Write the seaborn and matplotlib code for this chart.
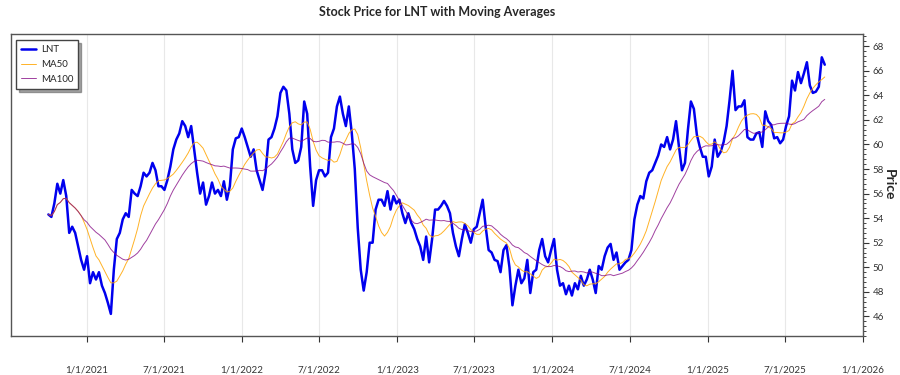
import matplotlib
matplotlib.use("Agg")
import matplotlib.pyplot as plt
import matplotlib.dates as mdates
from matplotlib.ticker import AutoMinorLocator, FuncFormatter, MultipleLocator
import pandas as pd
import seaborn as sns

# weekly closes, first week = 2020-10-02
first_week = "2020-10-02"

close_y1 = [54.3, 54.1, 55.2, 56.8, 56.0, 57.1, 55.8, 52.8, 53.3, 52.8,
            51.7, 50.6, 49.8, 50.9, 48.7, 49.6, 49.0, 49.6, 48.5, 47.9,
            47.1, 46.2, 49.8, 52.3, 52.8, 53.9, 54.4, 54.1, 56.3, 56.0,
            55.8, 56.6, 57.7, 57.4, 57.7, 58.5, 57.9, 56.6, 56.6, 56.3,
            57.1, 58.2, 59.6, 60.4, 60.9, 61.9, 61.5, 60.6, 61.5, 59.6,
            57.7, 56.0, 56.9]
close_y2 = [55.1, 55.8, 56.9, 56.0, 56.3, 55.8, 57.0, 55.5, 56.6, 59.6,
            60.5, 60.6, 61.3, 60.6, 59.8, 59.0, 59.6, 57.9, 57.1, 56.3,
            57.7, 60.4, 60.6, 61.3, 62.3, 64.2, 64.7, 64.4, 62.5, 59.6,
            58.5, 58.7, 59.8, 63.5, 62.5, 58.2, 55.0, 57.1, 57.9, 57.9,
            57.4, 57.7, 60.6, 61.3, 63.1, 63.9, 62.5, 61.5, 63.1, 60.9,
            58.0, 53.2]
close_y3 = [49.8, 48.1, 49.6, 52.0, 52.0, 54.7, 55.5, 55.5, 55.0, 56.2,
            54.7, 55.8, 55.2, 55.5, 54.4, 53.6, 54.4, 53.6, 53.1, 52.3,
            51.7, 50.6, 52.5, 50.4, 52.3, 54.7, 54.7, 55.0, 55.4, 55.0,
            54.4, 52.8, 51.7, 50.9, 52.3, 53.5, 52.8, 52.0, 53.1, 53.3,
            54.4, 55.5, 53.3, 51.4, 51.2, 50.6, 50.5, 49.6, 51.4, 51.8,
            50.0, 46.9]
close_y4 = [48.5, 49.8, 48.7, 49.1, 50.6, 47.9, 49.6, 49.8, 51.4, 52.3,
            50.9, 50.4, 51.4, 52.3, 49.8, 48.5, 48.7, 47.8, 48.5, 47.7,
            48.7, 48.2, 49.3, 48.5, 49.0, 49.8, 49.0, 47.9, 50.1, 49.8,
            50.9, 51.6, 51.9, 50.6, 51.2, 49.8, 50.1, 50.4, 50.6, 51.4,
            53.9, 55.1, 55.8, 55.6, 57.0, 57.7, 57.9, 58.5, 59.1, 60.0,
            59.8, 60.6]
close_y5 = [59.6, 60.4, 61.9, 59.8, 57.9, 58.5, 61.2, 63.5, 62.9, 60.8,
            59.8, 59.0, 59.0, 57.4, 58.2, 60.4, 59.0, 59.4, 60.2, 61.5,
            63.6, 66.0, 62.8, 63.1, 63.1, 63.6, 60.6, 60.4, 60.4, 60.9,
            61.0, 59.8, 62.7, 61.9, 61.6, 60.5, 60.6, 60.1, 60.4, 61.5,
            62.3, 65.2, 64.4, 65.9, 65.0, 65.8, 66.7, 64.8, 64.2, 64.3,
            64.7, 67.1, 66.5]

# 50 and 100 trading days ~ 10 and 20 weeks
ma50_weeks = 10
ma100_weeks = 20

close = close_y1 + close_y2 + close_y3 + close_y4 + close_y5
df = pd.DataFrame({
    "Date": pd.date_range(first_week, periods=len(close), freq="7D"),
    "LNT": close,
})
df["MA50"] = df["LNT"].rolling(ma50_weeks, min_periods=1).mean()
df["MA100"] = df["LNT"].rolling(ma100_weeks, min_periods=1).mean()

sns.set_style("white")
plt.rcParams["font.family"] = ["Lato", "DejaVu Sans"]

fig = plt.figure(figsize=(9, 3.75), dpi=100)
ax = fig.add_axes([11 / 900, 1 - 336 / 375, 852 / 900, 302 / 375])

sns.lineplot(data=df, x="Date", y="LNT", ax=ax, color="#0000ee", lw=1.8, label="LNT")
sns.lineplot(data=df, x="Date", y="MA50", ax=ax, color="orange", lw=0.7, alpha=0.85, label="MA50")
sns.lineplot(data=df, x="Date", y="MA100", ax=ax, color="purple", lw=0.7, alpha=0.75, label="MA100")

ax.set_xlim(pd.Timestamp("2020-07-06"), pd.Timestamp("2026-01-01"))
ax.set_ylim(44.4, 69.0)

ax.xaxis.set_major_locator(mdates.MonthLocator(bymonth=[1, 7]))
ax.xaxis.set_major_formatter(FuncFormatter(
    lambda v, p: "{0}/{1}/{2}".format(mdates.num2date(v).month, mdates.num2date(v).day, mdates.num2date(v).year)))
ax.grid(axis="x", color="#e8e8e8", lw=0.8)
ax.grid(axis="y", visible=False)

ax.yaxis.tick_right()
ax.yaxis.set_label_position("right")
ax.yaxis.set_major_locator(MultipleLocator(2))
ax.yaxis.set_minor_locator(AutoMinorLocator(5))
ax.tick_params(axis="x", which="major", direction="out", length=4, width=0.8, pad=17,
               labelsize=7, colors="#333333", bottom=True)
ax.tick_params(axis="y", which="major", direction="out", length=4, width=0.8, pad=3,
               labelsize=7, colors="#333333", right=True, left=False)
ax.tick_params(axis="y", which="minor", direction="out", length=2, width=0.6, right=True, left=False)

for s in ax.spines.values():
    s.set_color("#555555")
    s.set_linewidth(1.0)

ax.set_xlabel("")
ax.set_ylabel("Price", rotation=270, fontsize=10, fontweight="bold", ha="center", va="center")
ax.yaxis.set_label_coords(1.030, 0.5)
ax.set_title("Stock Price for LNT with Moving Averages", fontsize=9, fontweight="bold", pad=13)

leg = ax.legend(loc="upper left", frameon=True, fancybox=False, shadow=True, fontsize=7,
                handlelength=1.6, handletextpad=0.5, borderpad=0.5, labelspacing=0.6,
                bbox_to_anchor=(0.0, 0.995))
leg.get_frame().set_edgecolor("#444444")
leg.get_frame().set_linewidth(1.0)

fig.savefig("out.png", dpi=100)
